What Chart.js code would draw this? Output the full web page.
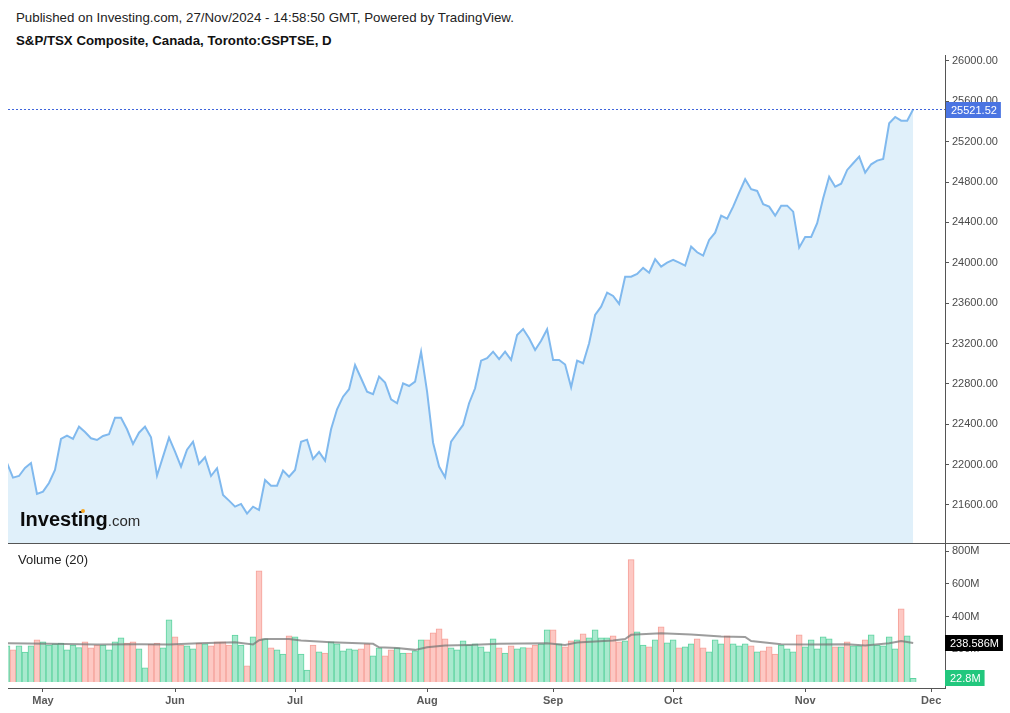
<!DOCTYPE html>
<html>
<head>
<meta charset="utf-8">
<script src="https://cdn.jsdelivr.net/npm/chart.js@4.4.0/dist/chart.umd.min.js"></script>
<style>
body{margin:0;background:#fff;width:1010px;height:713px;position:relative;overflow:hidden;font-family:"Liberation Sans",Arial,sans-serif;}
.txt{position:absolute;white-space:nowrap;}
#hdr1{left:16px;top:11px;font-size:13.3px;line-height:13px;color:#222;}
#hdr2{left:16px;top:34px;font-size:13.25px;line-height:13px;font-weight:bold;color:#111;}
#volTitle{left:18px;top:553px;font-size:13px;line-height:13px;color:#222;}
#logo{left:20px;top:509px;line-height:20px;color:#0b0b0b;}
#logo b{font-size:20px;}
#logo span{font-size:15px;color:#2a2a2a;}
#dot{position:absolute;left:81px;top:509px;width:4px;height:4px;border-radius:2px;background:#f5a623;}
#priceChart{position:absolute;left:0;top:50px;}
#volChart{position:absolute;left:0;top:540px;}
</style>
</head>
<body>
<div class="txt" id="hdr1">Published on Investing.com, 27/Nov/2024 - 14:58:50 GMT, Powered by TradingView.</div>
<div class="txt" id="hdr2">S&amp;P/TSX Composite, Canada, Toronto:GSPTSE, D</div>
<canvas id="priceChart" width="1010" height="500"></canvas>
<canvas id="volChart" width="1010" height="173"></canvas>
<div class="txt" id="logo"><b>Investing</b><span>.com</span></div>
<div id="dot"></div>
<div class="txt" id="volTitle">Volume (20)</div>
<script>
// daily closes, 23 Apr 2024 -> 27 Nov 2024 (one per trading day)
var prices = [22016,21871,21887,21967,22016,21709,21732,21818,21947,22254,
  22287,22254,22376,22323,22261,22244,22284,22301,22465,22465,
  22350,22205,22316,22376,22271,21890,22079,22267,22128,21980,
  22148,22227,22006,22073,21887,21964,21699,21643,21583,21610,
  21514,21583,21550,21848,21791,21791,21940,21880,21947,22227,
  22247,22056,22125,22039,22350,22548,22673,22747,22987,22856,
  22723,22697,22873,22812,22647,22608,22806,22779,22822,23119,
  22723,22217,21980,21875,22227,22311,22393,22608,22756,23030,
  23054,23119,23044,23119,23037,23285,23344,23252,23136,23228,
  23341,23037,23037,22992,22766,23030,23004,23202,23483,23565,
  23704,23671,23592,23862,23862,23889,23949,23902,24035,23962,
  24001,24028,24001,23971,24160,24104,24071,24226,24298,24467,
  24437,24556,24695,24828,24729,24712,24580,24556,24467,24566,
  24566,24507,24150,24256,24256,24392,24639,24853,24754,24784,
  24920,24986,25052,24893,24976,25012,25029,25383,25445,25408,
  25408,25521.52];

// volume in millions, same days
var volumes = [220,196,220,182,220,257,245,226,233,237,
  196,226,210,245,208,225,225,196,245,269,
  237,245,202,86,231,237,208,379,275,226,
  220,202,237,233,220,245,245,226,286,226,
  98,275,679,263,208,196,171,282,275,171,
  73,225,184,176,245,233,190,202,196,202,
  233,159,208,159,196,208,176,176,190,257,
  257,300,324,263,208,196,251,225,233,214,
  184,263,208,176,220,202,210,208,225,233,
  318,318,233,214,251,257,294,269,318,269,
  269,282,245,251,747,306,226,214,257,337,
  239,257,208,214,233,263,208,184,257,233,
  282,233,220,233,220,184,190,214,171,225,
  202,184,288,214,257,202,275,263,214,214,
  245,220,220,257,288,226,220,275,202,447,
  282,22.8];

// 1 = up day (green bar), 0 = down day (red bar)
var volUp = [1,0,1,1,1,0,1,1,1,1,
  1,1,1,0,0,0,1,1,1,1,
  0,0,1,1,0,0,1,1,0,0,
  1,1,0,1,0,0,0,0,1,1,
  0,1,0,1,0,1,1,0,1,1,
  1,0,1,0,1,1,1,1,1,0,
  0,1,1,0,0,1,1,0,1,1,
  0,0,0,0,1,1,1,1,1,1,
  1,1,0,1,0,1,1,0,0,1,
  1,0,1,0,0,1,0,1,1,1,
  1,0,0,1,0,1,1,0,1,0,
  1,1,0,1,1,0,0,1,1,1,
  0,1,1,1,0,1,0,0,0,1,
  1,1,0,1,1,1,1,1,0,1,
  0,1,1,0,1,1,1,1,1,0,
  1,1];

// 20-day volume average, read at these day positions
var maIdx  = [0,7,15,22,27,32,38,41,42,43,47,49,54,61,62,65,68,70,73,77,82,90,93,95,101,103,104,109,114,119,123,124,129,134,140,143,147,149,151];
var maVals = [237,233,229,231,229,237,243,229,255,263,263,253,243,233,212,208,196,212,222,226,233,237,226,241,253,262,288,298,290,277,275,250,231,229,231,222,237,250,238.586];

var priceTicks = [21600,22000,22400,22800,23200,23600,24000,24400,24800,25200,25600,26000];
var volTicks = [200,400,600,800];
var monthIdx = [6,28,48,70,91,111,133,154];
var monthNames = ['May','Jun','Jul','Aug','Sep','Oct','Nov','Dec'];

var xMin = 0.17, xMax = 156.3;
var priceMin = 21223, priceMax = 26059;
var volMin = -37, volMax = 849;

var FONT = '"Liberation Sans", Arial, sans-serif';
Chart.defaults.font.family = FONT;

function drawTag(ctx, x, yc, text, color) {
    ctx.font = '11px ' + FONT;
    var w = ctx.measureText(text).width + 9;
    ctx.fillStyle = color;
    ctx.fillRect(x, Math.round(yc) - 8, w, 16);
    ctx.fillStyle = '#fff';
    ctx.textBaseline = 'middle';
    ctx.textAlign = 'left';
    ctx.fillText(text, x + 5, Math.round(yc) + 0.5);
}

// keep the plot box exactly where the padding puts it
function fixY(s) { s.width = 65; s.paddingTop = 0; s.paddingBottom = 0; }
function fixX(s) { s.height = 25; s.paddingLeft = 0; s.paddingRight = 0; }

var priceOverlay = {
    id: 'priceOverlay',
    afterDraw: function (chart) {
        var ctx = chart.ctx, area = chart.chartArea;
        var last = prices[prices.length - 1];
        var y = Math.round(chart.scales.y.getPixelForValue(last)) + 0.5;
        ctx.save();
        ctx.lineWidth = 1;
        ctx.strokeStyle = '#3f66dc';
        ctx.setLineDash([2, 2]);
        ctx.beginPath(); ctx.moveTo(area.left, y); ctx.lineTo(area.right, y); ctx.stroke();
        ctx.setLineDash([]);
        ctx.strokeStyle = '#555';
        ctx.beginPath(); ctx.moveTo(area.left, area.bottom + 0.5); ctx.lineTo(chart.width, area.bottom + 0.5); ctx.stroke();
        drawTag(ctx, area.right + 1, y, last.toFixed(2), '#4a74e2');
        ctx.restore();
    }
};

var volOverlay = {
    id: 'volOverlay',
    afterDraw: function (chart) {
        var ctx = chart.ctx, area = chart.chartArea;
        var ma = maVals[maVals.length - 1];
        var v = volumes[volumes.length - 1];
        ctx.save();
        drawTag(ctx, area.right, chart.scales.y.getPixelForValue(ma), ma + 'M', '#000');
        drawTag(ctx, area.right, chart.scales.y.getPixelForValue(v), v + 'M', '#22c77d');
        ctx.restore();
    }
};

new Chart(document.getElementById('priceChart'), {
    type: 'line',
    data: {
        datasets: [{
            data: prices.map(function (p, i) { return {x: i, y: p}; }),
            borderColor: '#80b9ee',
            borderWidth: 2,
            backgroundColor: '#e0f0fa',
            fill: 'start',
            pointRadius: 0,
            tension: 0
        }]
    },
    options: {
        responsive: false,
        animation: false,
        layout: {padding: {left: 8, top: 5, right: 0, bottom: 7}},
        plugins: {legend: {display: false}, tooltip: {enabled: false}},
        scales: {
            x: {type: 'linear', min: xMin, max: xMax, display: false},
            y: {
                position: 'right', min: priceMin, max: priceMax,
                afterFit: fixY,
                afterBuildTicks: function (s) { s.ticks = priceTicks.map(function (v) { return {value: v}; }); },
                grid: {drawOnChartArea: false, tickLength: 4, color: '#555'},
                border: {display: true, color: '#555'},
                ticks: {padding: 3, color: '#4a4a4a', font: {size: 11},
                    callback: function (v) { return v.toFixed(2); }}
            }
        }
    },
    plugins: [priceOverlay]
});

new Chart(document.getElementById('volChart'), {
    data: {
        datasets: [{
            type: 'line',
            data: maIdx.map(function (x, k) { return {x: x, y: maVals[k]}; }),
            borderColor: 'rgba(115,115,115,0.7)',
            borderWidth: 2,
            pointRadius: 0,
            order: 0
        }, {
            type: 'bar',
            data: volumes.map(function (v, i) { return {x: i, y: v}; }),
            backgroundColor: volUp.map(function (u) { return u ? '#a8e9ce' : '#fdc8c3'; }),
            borderColor: volUp.map(function (u) { return u ? '#5ed3a0' : '#f5a29a'; }),
            borderWidth: 1,
            barPercentage: 1,
            categoryPercentage: 1,
            order: 1
        }]
    },
    options: {
        responsive: false,
        animation: false,
        layout: {padding: {left: 8, top: 3, right: 0, bottom: 0}},
        plugins: {legend: {display: false}, tooltip: {enabled: false}},
        scales: {
            x: {
                type: 'linear', min: xMin, max: xMax, offset: false,
                afterFit: fixX,
                afterBuildTicks: function (s) { s.ticks = monthIdx.map(function (v) { return {value: v}; }); },
                grid: {drawOnChartArea: false, offset: false, tickLength: 4, color: '#555'},
                border: {display: true, color: '#555'},
                ticks: {padding: 2, color: '#5a5a5a', font: {size: 11, weight: 'bold'}, maxRotation: 0, autoSkip: false,
                    callback: function (v, i) { return monthNames[i]; }}
            },
            y: {
                position: 'right', min: volMin, max: volMax,
                afterFit: fixY,
                afterBuildTicks: function (s) { s.ticks = volTicks.map(function (v) { return {value: v}; }); },
                grid: {drawOnChartArea: false, tickLength: 4, color: '#555'},
                border: {display: true, color: '#555'},
                ticks: {padding: 3, color: '#4a4a4a', font: {size: 11},
                    callback: function (v) { return v + 'M'; }}
            }
        }
    },
    plugins: [volOverlay]
});
</script>
</body>
</html>
